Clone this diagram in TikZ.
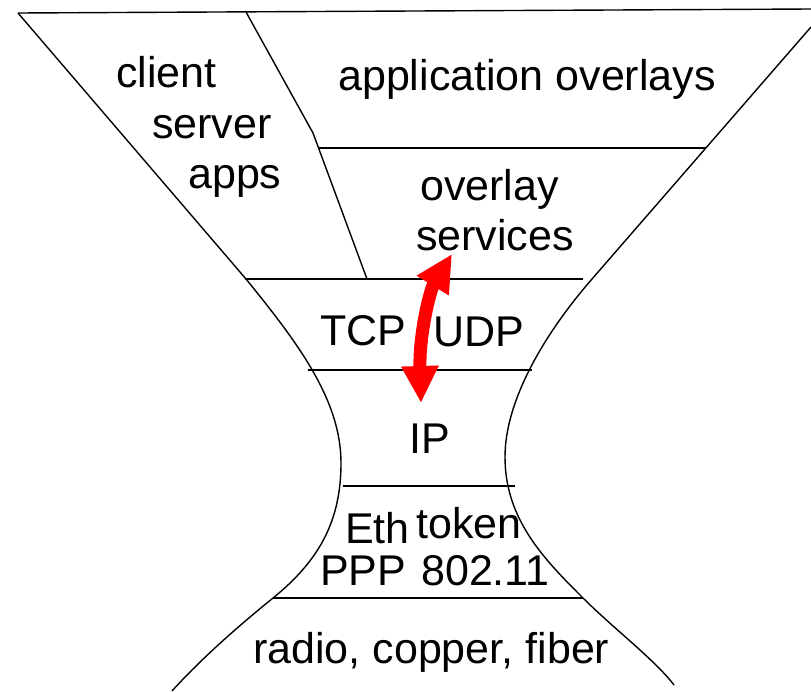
\documentclass[tikz,border=0pt]{standalone}
\usepackage{fontspec}
\setmainfont{Liberation Sans}
\usetikzlibrary{arrows.meta}
\tikzset{
  lbl/.style={anchor=base west, inner sep=0pt, font=\fontsize{43}{49}\selectfont},
  edge/.style={line width=1.4pt, black},
  layer/.style={line width=1.6pt, black},
  redarrow/.style={red, line width=13pt,
    {Triangle[length=37pt,width=35pt]}-{Triangle[length=37pt,width=35pt]}}
}
\begin{document}
\begin{tikzpicture}[x=1pt,y=-1pt]
\useasboundingbox (0,0) rectangle (811,691);
% outer shape
\draw[edge] (18,13) -- (811,9);
\draw[edge] (18,13) -- (246,279)
  .. controls (298,343) and (341,400) .. (341,463)
  .. controls (341,520) and (320,560) .. (273,598)
  .. controls (236,628) and (200,660) .. (172,691);
\draw[edge] (811,27) -- (592,279)
  .. controls (545,333) and (505,400) .. (505,457)
  .. controls (505,520) and (545,560) .. (583,598)
  .. controls (613,628) and (655,660) .. (674,685);
% divider
\draw[edge] (246,12) -- (313,133) -- (367,279);
% layer lines
\draw[layer] (318,148) -- (706,148);
\draw[layer] (245,279) -- (583,279);
\draw[layer] (308,370) -- (532,370);
\draw[layer] (343,486) -- (515,486);
\draw[layer] (273,598) -- (583,598);
% labels
\node[lbl] (client) at (116,87) {client};
\node[lbl] (server) at (152,138) {server};
\node[lbl] (apps) at (188,188) {apps};
\node[lbl] (appov) at (338,90) {application overlays};
\node[lbl] (overlay) at (420,200) {overlay};
\node[lbl] (services) at (416,250) {services};
\node[lbl] (tcp) at (320,345) {TCP};
\node[lbl] (udp) at (433,346) {UDP};
\node[lbl] (ip) at (409,453) {IP};
\node[lbl] (eth) at (345,543) {Eth};
\node[lbl] (token) at (416,538) {token};
\node[lbl] (ppp) at (320,585) {PPP};
\node[lbl] (wifi) at (421,585) {802.11};
\node[lbl] (phys) at (253,663) {radio, copper, fiber};
% red arrow
\coordinate (abot) at (421,403);
\coordinate (atop) at (452,254);
\draw[redarrow] (abot) .. controls (419,335) and (430,290) .. (atop);
\end{tikzpicture}
\end{document}
